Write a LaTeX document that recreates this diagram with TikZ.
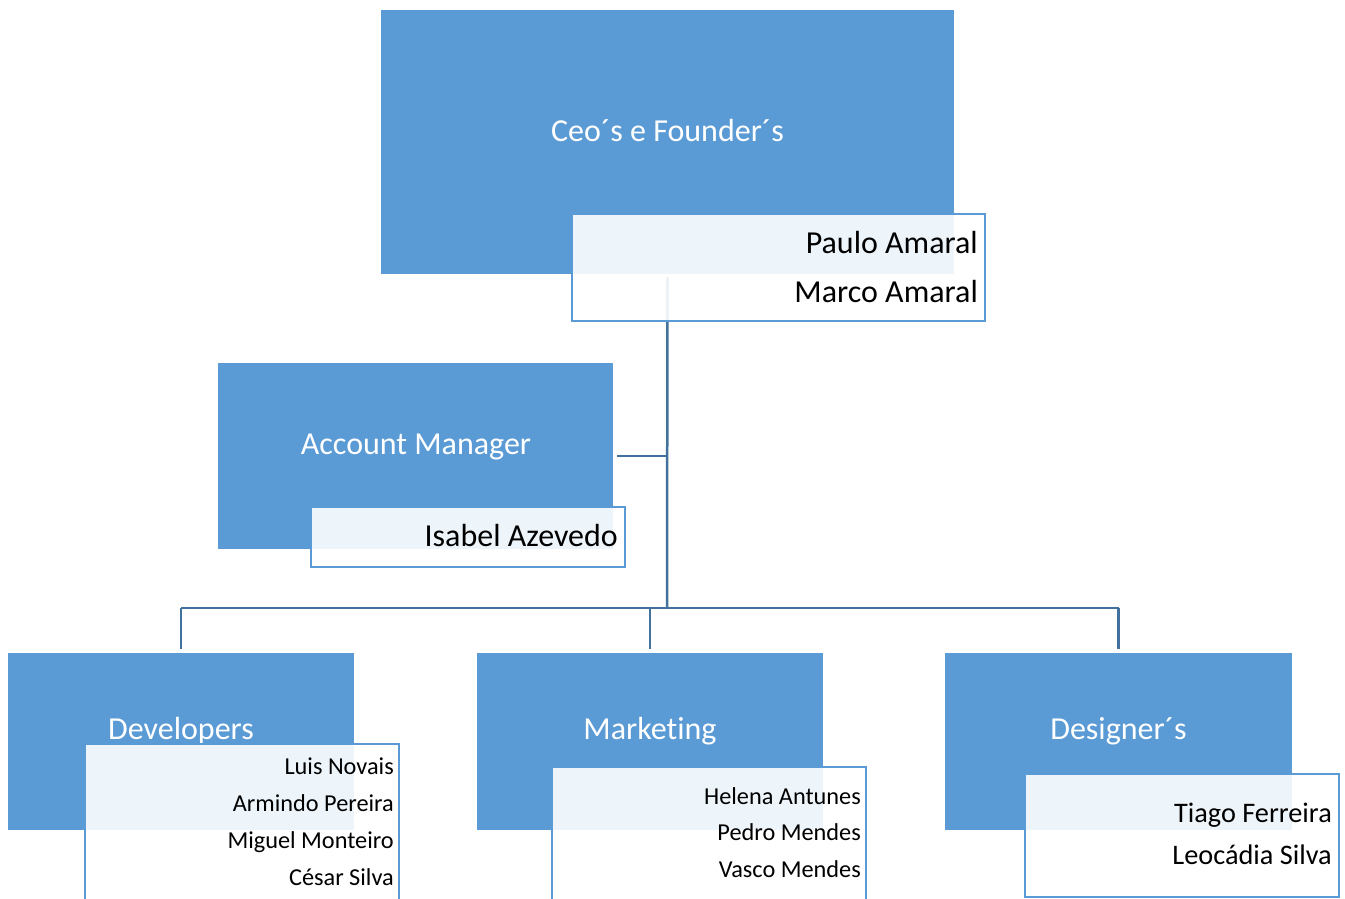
\documentclass[tikz,border=0pt]{standalone}
\usepackage{fontspec}
\setmainfont[Ligatures=NoCommon]{Carlito}
\definecolor{unitblue}{HTML}{5B9BD5}
\definecolor{linkblue}{HTML}{41719C}
\tikzset{
  unitbox/.style={fill=unitblue, draw=none, inner sep=0pt},
  namebox/.style={fill=white, fill opacity=0.9, draw=unitblue, line width=2.5pt, inner sep=0pt},
  link/.style={draw=linkblue, line width=2.5pt},
  headtxt/.style={white, anchor=base, inner sep=0pt, font=\fontsize{32}{38}\selectfont},
  nametxt/.style={black, anchor=base east, inner sep=0pt},
}
\begin{document}
\begin{tikzpicture}[x=1pt, y=-1pt]
 \useasboundingbox (0,0) rectangle (1345,898);

 %level 1: units
 \node[unitbox, minimum width=573pt, minimum height=264pt] (ceo) at (667.5,142) {};
 \node[unitbox, minimum width=395pt, minimum height=186pt] (am) at (415.5,456) {};
 \node[unitbox, minimum width=346pt, minimum height=177pt] (dev) at (181,741.5) {};
 \node[unitbox, minimum width=346pt, minimum height=177pt] (mkt) at (650,741.5) {};
 \node[unitbox, minimum width=347pt, minimum height=177pt] (des) at (1118.5,741.5) {};

 %connectors
 \coordinate (bus) at (667,608);
 \draw[link] ([yshift=-3pt]ceo.south) -- (bus);
 \draw[link] ([xshift=4pt]am.east) -- (am.east -| bus);
 \draw[link] (dev.north |- bus) -- (des.north |- bus);
 \foreach \u in {dev, mkt, des} {
   \draw[link] (\u.north |- bus) -- ([yshift=4pt]\u.north);
 }

 %headings
 \node[headtxt] (ceo-title) at (667.5,141) {Ceo´s e Founder´s};
 \node[headtxt] (am-title) at (416,454) {Account Manager};
 \def\dy{739};
 \foreach \u/\name in {dev/Developers, mkt/Marketing, des/Designer´s} {
   \node[headtxt] (\u-title) at (\u.center |- 0,\dy) {\name};
 }

 %name boxes
 \draw[namebox] (572,214) rectangle (985,321);
 \draw[namebox] (311,507) rectangle (625,567);
 \draw[namebox] (85,744) rectangle (399,912);
 \draw[namebox] (552,767) rectangle (866,912);
 \draw[namebox] (1025,774) rectangle (1339,897);

 %names
 \foreach \i/\y/\name in {1/253/Paulo Amaral, 2/302/Marco Amaral} {
   \node[nametxt, font=\fontsize{32}{38}\selectfont] (ceo-\i) at (978,\y) {\name};
 }
 \node[nametxt, font=\fontsize{32}{38}\selectfont] (am-1) at (618,546) {Isabel Azevedo};
 \foreach \i/\y/\name in {1/774/Luis Novais, 2/811/Armindo Pereira, 3/848/Miguel Monteiro, 4/885/César Silva} {
   \node[nametxt, font=\fontsize{24.3}{29}\selectfont] (dev-\i) at (394,\y) {\name};
 }
 \foreach \i/\y/\name in {1/804/Helena Antunes, 2/840/Pedro Mendes, 3/877/Vasco Mendes} {
   \node[nametxt, font=\fontsize{24.3}{29}\selectfont] (mkt-\i) at (861,\y) {\name};
 }
 \foreach \i/\y/\name in {1/822/Tiago Ferreira, 2/864/Leocádia Silva} {
   \node[nametxt, font=\fontsize{28.3}{34}\selectfont] (des-\i) at (1332,\y) {\name};
 }

\end{tikzpicture}
\end{document}
